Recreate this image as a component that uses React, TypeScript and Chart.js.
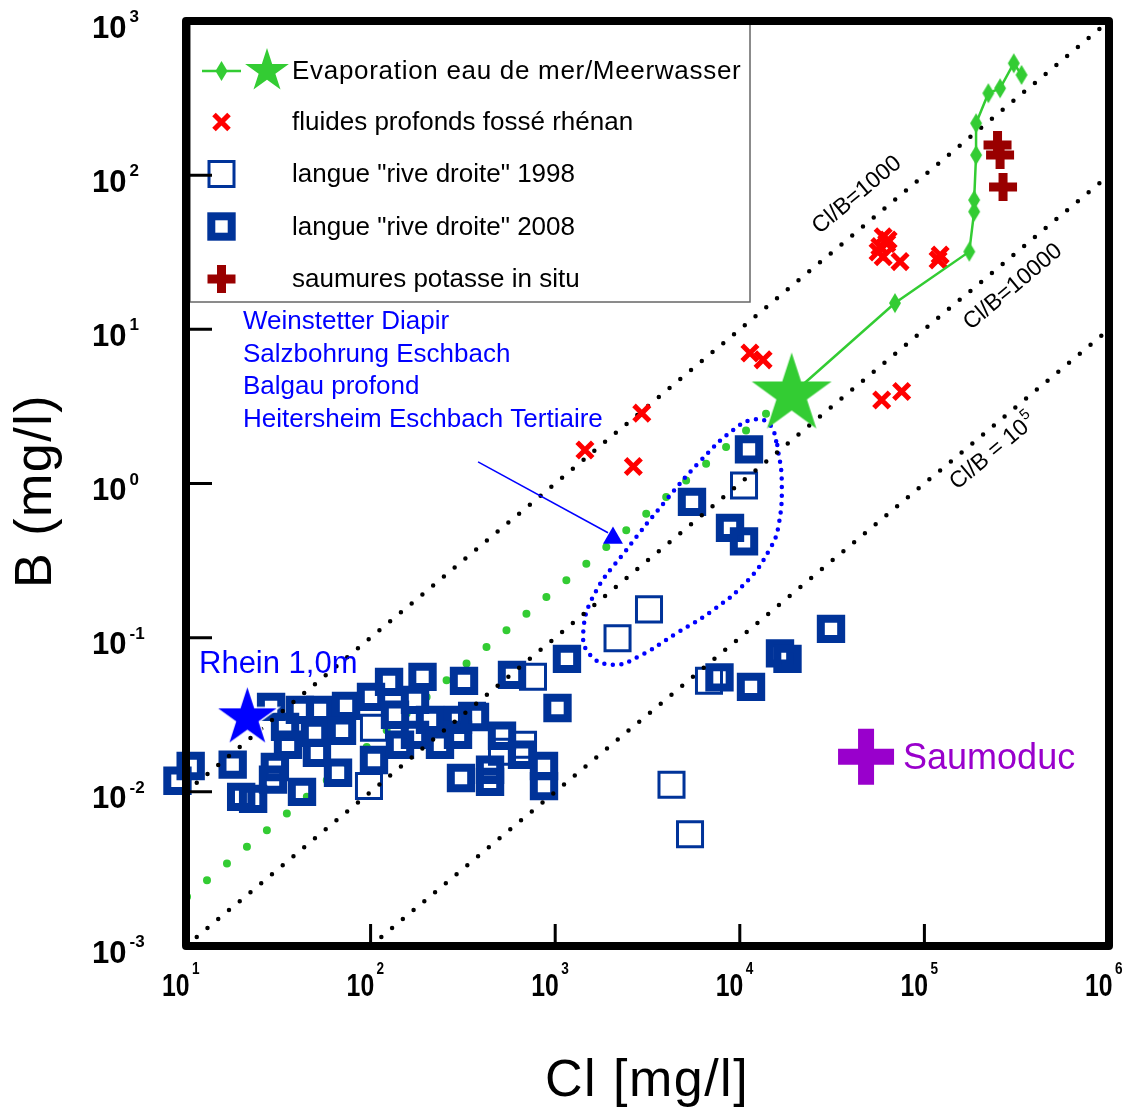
import React, { useEffect, useRef } from "react";
import { Chart, registerables } from "chart.js";
Chart.register(...registerables);

// ---------- DATA ----------
// Seawater evaporation path (first point = seawater)
const evapCl = [19100, 69300, 175000, 186000, 186000, 190500, 190500, 222000, 257000, 305000, 336000];
const evapB = [3.78, 14.8, 31.9, 58, 69, 135, 217, 340, 366, 532, 447];
// Seawater star
const seawaterCl = [19100];
const seawaterB = [3.78];
// Seawater dilution dotted line (end points)
const dilutionCl = [10.13, 13900];
const dilutionB = [0.002085, 2.84];
// Deep fluids of the Rhine graben
const fluidsCl = [1449, 2945, 2650, 11350, 13370, 59800, 57400, 62500, 56100, 59800, 63600, 73800, 121700, 118600, 58700, 75300];
const fluidsB = [1.65, 2.86, 1.29, 7.03, 6.34, 39.9, 34.4, 36.1, 31.8, 29.6, 38.0, 27.5, 30.3, 28.2, 3.48, 3.95];
// Potash brines in situ
const potashCl = [249000, 257000, 266700];
const potashB = [157, 135, 83.8];
// Langue "rive droite" 1998 (open squares)
const l1998Cl = [98.0, 104.3, 354.2, 515.0, 669.4, 758.0, 2176, 3222, 6809, 10540, 4266, 5374];
const l1998B = [0.0109, 0.026, 0.0311, 0.0182, 0.0202, 0.0557, 0.099, 0.1526, 0.0525, 0.972, 0.0111, 0.0053];
// Langue "rive droite" 2008 (thick squares)
const l2008Cl = [8.99, 10.6, 17.9, 19.9, 23.1, 28.9, 41.4, 53.2, 73.6, 34.4, 50.0, 70.0, 35.7, 51.2, 66.6, 30.3, 29.6, 42.5,
  100.5, 125.9, 191.1, 320.6, 583.4, 1029, 1158, 104.3, 174.0, 174.0, 209.8, 297.5, 297.5, 367.7, 308.8, 443.6, 443.6,
  515.0, 661.1, 869.6, 869.6, 135.6, 144.3, 237.6, 5508, 8850, 10540, 11215, 7762, 11500, 16510, 18130, 31190];
const l2008B = [0.0118, 0.0147, 0.015, 0.00928, 0.00901, 0.0356, 0.034, 0.034, 0.0361, 0.0264, 0.0241, 0.0249, 0.0202, 0.0179, 0.0133, 0.0145, 0.012, 0.01,
  0.0413, 0.0517, 0.0557, 0.0525, 0.0574, 0.035, 0.0729, 0.0161, 0.0395, 0.0234, 0.0293, 0.0293, 0.0234, 0.0306, 0.0123, 0.0116, 0.0139,
  0.0231, 0.0174, 0.0147, 0.0109, 0.0316, 0.0202, 0.0202, 0.76, 0.515, 0.421, 1.664, 0.0553, 0.048, 0.0791, 0.0729, 0.1141];
// Rhein 1,0m
const rheinCl = [21.5];
const rheinB = [0.0302];
// Saumoduc
const saumoducCl = [48300];
const saumoducB = [0.01686];
// Cl/B ratio reference lines (end points)
const ratio1000Cl = [10, 1e6];
const ratio1000B = [0.01, 1000];
const ratio1e4Cl = [10, 1e6];
const ratio1e4B = [0.001, 100];
const ratio1e5Cl = [100, 1e6];
const ratio1e5B = [0.001, 10];
// Outline around the deep-borehole group
const lassoCl = [15960, 16870, 16180, 14450, 11120, 7180, 4550, 2820, 2065, 1545, 1420, 1643, 2388, 3935, 6080, 9230, 12080, 14590, 15960];
const lassoB = [1.78, 1.05, 0.525, 0.371, 0.237, 0.151, 0.107, 0.0753, 0.0667, 0.0773, 0.11, 0.195, 0.361, 0.764, 1.39, 2.23, 2.61, 2.4, 1.78];
// Arrow to the group
const arrowCl = [382, 1932];
const arrowB = [1.38, 0.479];
const arrowHeadCl = [2056];
const arrowHeadB = [0.443];
// Axis ticks (exponents)
const xTickExp = [1, 2, 3, 4, 5, 6];
const yTickExp = [3, 2, 1, 0, -1, -2, -3];
// Texts
const legendLabels = [
  "Evaporation eau de mer/Meerwasser",
  "fluides profonds fossé rhénan",
  'langue "rive droite" 1998',
  'langue "rive droite" 2008',
  "saumures potasse in situ",
];
const groupLabels = ["Weinstetter Diapir", "Salzbohrung Eschbach", "Balgau profond", "Heitersheim Eschbach Tertiaire"];

// ---------- STYLE ----------
const FONT = '"Liberation Sans", Arial, sans-serif';
const GREEN = "#33cc33";
const SQ = "#003399";
const W = 1140;
const H = 1119;

const pts = (xs: number[], ys: number[]) => xs.map((x, i) => ({ x, y: ys[i] }));

function starPath(ctx: CanvasRenderingContext2D, cx: number, cy: number, R: number) {
  const r = R * 0.382;
  ctx.beginPath();
  for (let i = 0; i < 10; i++) {
    const rad = i % 2 === 0 ? R : r;
    const a = -Math.PI / 2 + (i * Math.PI) / 5;
    const x = cx + rad * Math.cos(a);
    const y = cy + rad * Math.sin(a);
    if (i === 0) ctx.moveTo(x, y);
    else ctx.lineTo(x, y);
  }
  ctx.closePath();
}

function makeStar(R: number, fill: string, stroke?: string, sw = 0) {
  const c = document.createElement("canvas");
  const s = Math.ceil(2 * R + 2 * sw + 4);
  c.width = s;
  c.height = s;
  const g = c.getContext("2d")!;
  starPath(g, s / 2, s / 2, R);
  g.fillStyle = fill;
  g.fill();
  if (stroke && sw > 0) {
    g.strokeStyle = stroke;
    g.lineWidth = sw;
    g.stroke();
  }
  return c;
}

function diamondPath(ctx: CanvasRenderingContext2D, cx: number, cy: number, w: number, h: number) {
  ctx.beginPath();
  ctx.moveTo(cx, cy - h / 2);
  ctx.lineTo(cx + w / 2, cy);
  ctx.lineTo(cx, cy + h / 2);
  ctx.lineTo(cx - w / 2, cy);
  ctx.closePath();
}

function makeDiamond(w: number, h: number, fill: string) {
  const c = document.createElement("canvas");
  c.width = w + 2;
  c.height = h + 2;
  const g = c.getContext("2d")!;
  diamondPath(g, (w + 2) / 2, (h + 2) / 2, w, h);
  g.fillStyle = fill;
  g.fill();
  return c;
}

function drawPow(ctx: CanvasRenderingContext2D, x: number, baseY: number, exp: string, sx: number, supDy: number) {
  ctx.save();
  ctx.translate(x, baseY);
  ctx.scale(sx, 1);
  ctx.font = `bold 31px ${FONT}`;
  ctx.textAlign = "left";
  ctx.textBaseline = "alphabetic";
  ctx.fillStyle = "#000";
  ctx.fillText("10", 0, 0);
  const w = ctx.measureText("10").width;
  ctx.font = `bold 17px ${FONT}`;
  ctx.fillText(exp, w + 3, supDy);
  ctx.restore();
}

export default function App() {
  const ref = useRef<HTMLCanvasElement>(null);

  useEffect(() => {
    document.body.style.margin = "0";
    const canvas = ref.current!;
    const bigStar = makeStar(42, GREEN);
    const blueStar = makeStar(33, "#0000ff", "#ffffff", 1.5);
    const diamond = makeDiamond(12, 20, GREEN);

    const decor = {
      id: "decor",
      beforeDatasetsDraw(chart: any) {
        const { ctx } = chart;
        ctx.save();
        ctx.fillStyle = "#fff";
        ctx.fillRect(0, 0, W, H);
        ctx.restore();
      },
      afterDatasetsDraw(chart: any) {
        const { ctx, chartArea: a, scales } = chart;
        const xs = scales.x;
        const ys = scales.y;
        ctx.save();

        // Legend box
        ctx.fillStyle = "#fff";
        ctx.fillRect(a.left, a.top, 750 - a.left, 302 - a.top);
        ctx.strokeStyle = "#666";
        ctx.lineWidth = 1.5;
        ctx.strokeRect(190, a.top, 560, 302 - a.top);

        const rows = [71, 122, 174, 226.5, 279];
        const mx = 221.5;
        ctx.strokeStyle = GREEN;
        ctx.lineWidth = 2.5;
        ctx.beginPath();
        ctx.moveTo(202, rows[0]);
        ctx.lineTo(241, rows[0]);
        ctx.stroke();
        ctx.fillStyle = GREEN;
        diamondPath(ctx, mx, rows[0], 12, 20);
        ctx.fill();
        starPath(ctx, 267, rows[0], 23);
        ctx.fill();
        ctx.strokeStyle = "#ff0000";
        ctx.lineWidth = 5;
        ctx.beginPath();
        ctx.moveTo(mx - 7.5, rows[1] - 7.5);
        ctx.lineTo(mx + 7.5, rows[1] + 7.5);
        ctx.moveTo(mx + 7.5, rows[1] - 7.5);
        ctx.lineTo(mx - 7.5, rows[1] + 7.5);
        ctx.stroke();
        ctx.strokeStyle = SQ;
        ctx.lineWidth = 3;
        ctx.strokeRect(mx - 12.5, rows[2] - 12.5, 25, 25);
        ctx.lineWidth = 8;
        ctx.strokeRect(mx - 10.2, rows[3] - 10.2, 20.4, 20.4);
        ctx.strokeStyle = "#990000";
        ctx.lineWidth = 9;
        ctx.beginPath();
        ctx.moveTo(mx - 14, rows[4]);
        ctx.lineTo(mx + 14, rows[4]);
        ctx.moveTo(mx, rows[4] - 14);
        ctx.lineTo(mx, rows[4] + 14);
        ctx.stroke();

        ctx.fillStyle = "#000";
        ctx.font = `26px ${FONT}`;
        ctx.textAlign = "left";
        ctx.textBaseline = "middle";
        legendLabels.forEach((t, i) => {
          (ctx as any).letterSpacing = i === 0 ? "0.7px" : "0px";
          ctx.fillText(t, 292, rows[i] + 1);
        });
        (ctx as any).letterSpacing = "0px";

        // Group labels
        ctx.fillStyle = "#0000ff";
        ctx.font = `26px ${FONT}`;
        groupLabels.forEach((t, i) => ctx.fillText(t, 243, 322 + i * 32.5));

        // Rhein label
        ctx.font = `31px ${FONT}`;
        ctx.fillText("Rhein 1,0m", 199, 664);

        // Saumoduc label
        const sx = xs.getPixelForValue(saumoducCl[0]);
        const sy = ys.getPixelForValue(saumoducB[0]);
        ctx.fillStyle = "#9900cc";
        ctx.font = `36px ${FONT}`;
        ctx.fillText("Saumoduc", sx + 37, sy + 2);

        // Ratio labels
        const ang = -Math.atan2(154.2, 184.6);
        ctx.fillStyle = "#000";
        const rot = (txt: string, x: number, y: number, sup?: string) => {
          ctx.save();
          ctx.translate(x, y);
          ctx.rotate(ang);
          ctx.font = `23px ${FONT}`;
          ctx.textBaseline = "middle";
          const w = ctx.measureText(txt).width;
          const sw = sup ? 9 : 0;
          ctx.textAlign = "left";
          ctx.fillText(txt, -(w + sw) / 2, 0);
          if (sup) {
            ctx.font = `15px ${FONT}`;
            ctx.fillText(sup, -(w + sw) / 2 + w + 1, -8);
          }
          ctx.restore();
        };
        rot("Cl/B=1000", 857, 195);
        rot("Cl/B=10000", 1013, 287);
        rot("Cl/B = 10", 993, 452, "5");

        ctx.restore();
      },
      afterDraw(chart: any) {
        const { ctx, chartArea: a, scales } = chart;
        const xs = scales.x;
        const ys = scales.y;
        ctx.save();
        ctx.strokeStyle = "#000";
        ctx.lineWidth = 3;
        ctx.beginPath();
        yTickExp.slice(1, -1).forEach((e) => {
          const y = ys.getPixelForValue(Math.pow(10, e));
          ctx.moveTo(a.left, y);
          ctx.lineTo(a.left + 26, y);
        });
        xTickExp.slice(1, -1).forEach((e) => {
          const x = xs.getPixelForValue(Math.pow(10, e));
          ctx.moveTo(x, a.bottom);
          ctx.lineTo(x, a.bottom - 22);
        });
        ctx.stroke();
        ctx.lineWidth = 8;
        ctx.lineJoin = "round";
        ctx.strokeRect(a.left, a.top, a.right - a.left, a.bottom - a.top);

        yTickExp.forEach((e) => {
          const y = ys.getPixelForValue(Math.pow(10, e));
          drawPow(ctx, 92, y + 16.5, String(e), 1, -15.5);
        });
        xTickExp.forEach((e) => {
          const x = xs.getPixelForValue(Math.pow(10, e));
          drawPow(ctx, x - 24, a.bottom + 50, String(e), 0.8, -22);
        });

        ctx.fillStyle = "#000";
        ctx.font = `52px ${FONT}`;
        (ctx as any).letterSpacing = "1.5px";
        ctx.textAlign = "center";
        ctx.textBaseline = "middle";
        ctx.fillText("Cl [mg/l]", 647, 1082);
        ctx.save();
        ctx.translate(37, 491);
        ctx.rotate(-Math.PI / 2);
        ctx.fillText("B (mg/l)", 0, 0);
        ctx.restore();
        (ctx as any).letterSpacing = "0px";
        ctx.restore();
      },
    };

    const dotted = (data: any, color: string, width: number, gap: number, order: number, extra: any = {}) => ({
      data,
      showLine: true,
      borderColor: color,
      borderWidth: width,
      borderDash: [0, gap],
      borderCapStyle: "round",
      pointRadius: 0,
      fill: false,
      order,
      ...extra,
    });

    const chart = new Chart(canvas, {
      type: "scatter",
      data: {
        datasets: [
          {
            data: pts(saumoducCl, saumoducB),
            pointStyle: "cross",
            pointRadius: 28,
            borderWidth: 16,
            borderColor: "#9900cc",
            order: 0,
          },
          {
            data: pts(rheinCl, rheinB),
            pointStyle: blueStar,
            order: 1,
            clip: false,
          },
          {
            data: pts(seawaterCl, seawaterB),
            pointStyle: bigStar,
            order: 2,
          },
          {
            data: pts(evapCl, evapB),
            showLine: true,
            borderColor: GREEN,
            borderWidth: 2.5,
            pointStyle: evapCl.map((_, i) => (i === 0 ? false : diamond)) as any,
            order: 3,
          },
          {
            data: pts(potashCl, potashB),
            pointStyle: "cross",
            pointRadius: 14,
            borderWidth: 9,
            borderColor: "#990000",
            order: 4,
          },
          {
            data: pts(fluidsCl, fluidsB),
            pointStyle: "crossRot",
            pointRadius: 11,
            borderWidth: 5,
            borderColor: "#ff0000",
            order: 5,
          },
          {
            data: pts(arrowCl, arrowB),
            showLine: true,
            borderColor: "#0000ff",
            borderWidth: 1.5,
            pointRadius: 0,
            order: 6,
          },
          {
            data: pts(arrowHeadCl, arrowHeadB),
            pointStyle: "triangle",
            pointRadius: 11.5,
            backgroundColor: "#0000ff",
            borderColor: "#0000ff",
            borderWidth: 0,
            order: 6,
          },
          dotted(pts(ratio1000Cl, ratio1000B), "#000", 4.5, 14, 7),
          dotted(pts(ratio1e4Cl, ratio1e4B), "#000", 4.5, 14, 7),
          dotted(pts(ratio1e5Cl, ratio1e5B), "#000", 4.5, 14, 7),
          {
            data: pts(l2008Cl, l2008B),
            pointStyle: "rect",
            pointRadius: 14.4,
            borderWidth: 8,
            borderColor: SQ,
            backgroundColor: "transparent",
            order: 8,
            clip: false,
          },
          {
            data: pts(l1998Cl, l1998B),
            pointStyle: "rect",
            pointRadius: 17.7,
            borderWidth: 3,
            borderColor: SQ,
            backgroundColor: "transparent",
            order: 9,
            clip: false,
          },
          dotted(pts(lassoCl, lassoB), "#0000ff", 4.5, 8.5, 10, { tension: 0.45 }),
          dotted(pts(dilutionCl, dilutionB), GREEN, 8, 26, 11),
        ] as any,
      },
      options: {
        animation: false,
        responsive: false,
        events: [],
        layout: { autoPadding: false, padding: { left: 186, right: W - 1109, top: 21, bottom: H - 946 } },
        scales: {
          x: { type: "logarithmic", min: 10, max: 1e6, display: false, ticks: { display: false } },
          y: { type: "logarithmic", min: 0.001, max: 1000, display: false, ticks: { display: false } },
        },
        plugins: {
          legend: { display: false },
          tooltip: { enabled: false },
        },
        elements: { point: { hoverRadius: 0 } },
      },
      plugins: [decor],
    } as any);

    return () => chart.destroy();
  }, []);

  return (
    <div style={{ width: W, height: H }}>
      <canvas ref={ref} width={W} height={H} style={{ display: "block" }} />
    </div>
  );
}
